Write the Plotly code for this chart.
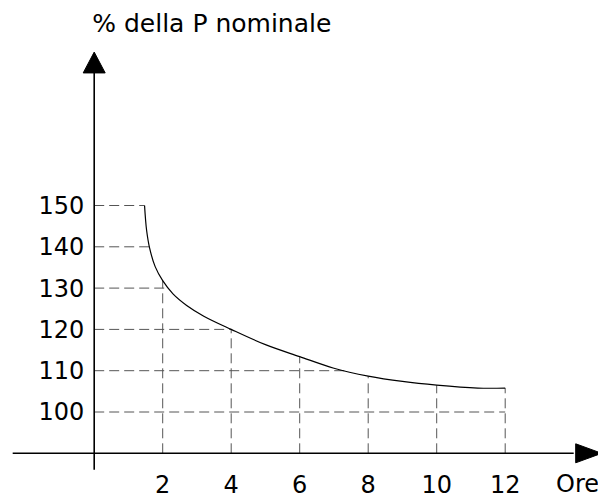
import plotly.graph_objects as go

# ---- data ----
curve_hours = [1.47, 1.53, 1.62, 1.78, 2.0, 2.3, 2.7, 3.2, 4.0, 5.0, 6.0, 7.0, 8.0, 9.0, 10.0, 11.2, 12.0]
curve_pct = [150, 144, 139.6, 135.2, 131.8, 128.6, 125.8, 123.2, 120, 116.3, 113.4, 110.6, 108.7, 107.4, 106.5, 105.8, 105.8]

level_values = [150, 140, 130, 120, 110, 100]
level_ends = [1.47, 1.61, 2.17, 4.0, 7.3, 12.0]

hour_ticks = [2, 4, 6, 8, 10, 12]
hour_tops = [131.8, 120, 113.4, 108.7, 106.5, 105.8]

x_axis_level = 90
y_axis_bottom = 86
y_axis_top = 182.3
x_axis_left = -2.38
x_axis_right = 14.0

title_text = "% della P nominale"
x_unit = "Ore"

FONT = "DejaVu Sans"
# the page adds an 8px body margin, so the figure is drawn 8px smaller and shifted
OFF = 8
W, H = 606 - OFF, 499 - OFF
X0PX, XSCALE = 94.2 - OFF, 34.25
Y100PX, YSCALE = 412.0 - OFF, 4.13
x_range = [-X0PX / XSCALE, (W - X0PX) / XSCALE]
y_range = [100 - (H - Y100PX) / YSCALE, 100 + Y100PX / YSCALE]

fig = go.Figure()

dash_line = dict(color="#555555", width=1, dash="10px,5px")

# dashed guide lines (horizontal)
hx, hy = [], []
for v, e in zip(level_values, level_ends):
    hx += [0, e, None]
    hy += [v, v, None]
fig.add_trace(go.Scatter(x=hx, y=hy, mode="lines", line=dash_line,
                         hoverinfo="skip", showlegend=False))
# dashed guide lines (vertical)
vx, vy = [], []
for h, t in zip(hour_ticks, hour_tops):
    vx += [h, h, None]
    vy += [x_axis_level, t, None]
fig.add_trace(go.Scatter(x=vx, y=vy, mode="lines", line=dash_line,
                         hoverinfo="skip", showlegend=False))

# curve
fig.add_trace(go.Scatter(x=curve_hours, y=curve_pct, mode="lines",
                         line=dict(color="black", width=1.2, shape="spline", smoothing=1.0),
                         hoverinfo="skip", showlegend=False))

# axes lines
fig.add_trace(go.Scatter(x=[0, 0], y=[y_axis_bottom, y_axis_top], mode="lines",
                         line=dict(color="black", width=1.6), hoverinfo="skip", showlegend=False))
fig.add_trace(go.Scatter(x=[x_axis_left, x_axis_right], y=[x_axis_level, x_axis_level], mode="lines",
                         line=dict(color="black", width=1.6), hoverinfo="skip", showlegend=False))

# arrow heads (filled triangles)
ah_w = 11 / XSCALE
ah_len = 20 / YSCALE
fig.add_trace(go.Scatter(x=[-ah_w, ah_w, 0, -ah_w],
                         y=[y_axis_top - 0.2, y_axis_top - 0.2, y_axis_top + ah_len, y_axis_top - 0.2],
                         mode="lines", fill="toself", fillcolor="black",
                         line=dict(color="black", width=1), hoverinfo="skip", showlegend=False))
ah_h = 9.5 / YSCALE
ah_l = 26 / XSCALE
xb = (575.7 - OFF - X0PX) / XSCALE
fig.add_trace(go.Scatter(x=[xb, xb, xb + ah_l, xb],
                         y=[x_axis_level - ah_h, x_axis_level + ah_h, x_axis_level, x_axis_level - ah_h],
                         mode="lines", fill="toself", fillcolor="black",
                         line=dict(color="black", width=1), hoverinfo="skip", showlegend=False))

fig.add_annotation(x=(577 - OFF - X0PX) / XSCALE, y=x_axis_level, xref="x", yref="y",
                   text=x_unit, showarrow=False, yanchor="top", yshift=-15,
                   font=dict(family=FONT, size=24, color="black"))

fig.update_layout(
    width=W, height=H,
    margin=dict(l=0, r=0, t=0, b=0),
    paper_bgcolor="white", plot_bgcolor="white",
    title=dict(text=title_text, x=(211.8 - OFF) / W, xanchor="center",
               y=1 - (23 - OFF) / H, yanchor="middle",
               font=dict(family=FONT, size=25, color="black")),
    xaxis=dict(range=x_range, domain=[0, 1], anchor="free", position=(H - (453.3 - OFF)) / H,
               tickvals=hour_ticks, ticktext=[str(h) for h in hour_ticks],
               showline=False, showgrid=False, zeroline=False, ticks="",
               ticklabelstandoff=15, automargin=False,
               tickfont=dict(family=FONT, size=24, color="black")),
    yaxis=dict(range=y_range, domain=[0, 1], anchor="free", position=X0PX / W,
               tickvals=level_values, ticktext=[str(v) for v in level_values],
               showline=False, showgrid=False, zeroline=False, ticks="",
               ticklabelstandoff=10, automargin=False,
               tickfont=dict(family=FONT, size=24, color="black")),
)

fig.write_html("out.html")
